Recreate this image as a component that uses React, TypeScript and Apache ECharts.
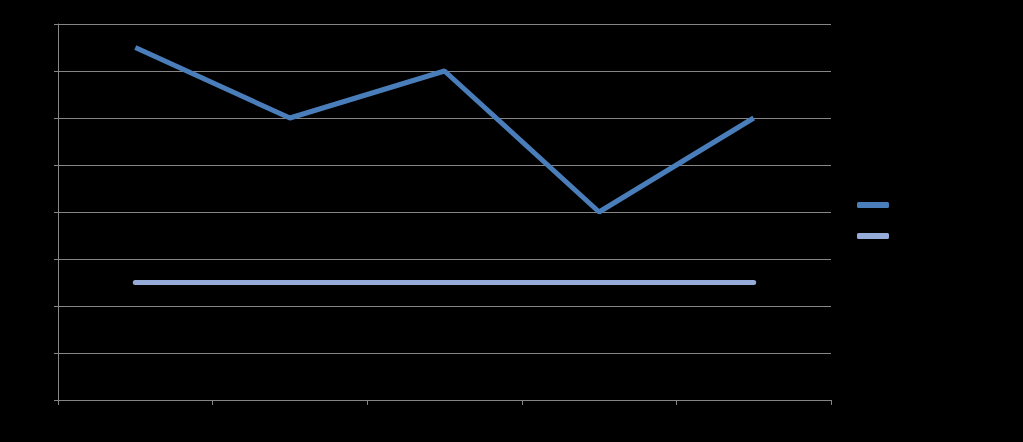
import React, { useEffect, useRef } from "react";
import * as echarts from "echarts";

const categories = ["Category 1", "Category 2", "Category 3", "Category 4", "Category 5"];
const series1Values = [7.5, 6, 7, 4, 6];
const series2Values = [2.5, 2.5, 2.5, 2.5, 2.5];
const seriesNames = ["Series 1", "Series 2"];

export default function App() {
  const ref = useRef<HTMLDivElement>(null);
  useEffect(() => {
    document.body.style.margin = "0";
    document.body.style.background = "#000";
    const chart = echarts.init(ref.current!, null, { renderer: "svg" });
    chart.setOption({
      animation: false,
      backgroundColor: "#000000",
      grid: { left: 58, top: 24, width: 773, height: 376, containLabel: false },
      legend: {
        orient: "vertical",
        left: 852,
        top: 194,
        itemWidth: 32,
        itemHeight: 6,
        itemGap: 19,
        icon: "roundRect",
        textStyle: { color: "#000000", fontSize: 12 },
        data: seriesNames,
      },
      xAxis: {
        type: "category",
        data: categories,
        boundaryGap: true,
        axisLine: { lineStyle: { color: "#868686", width: 1 } },
        axisTick: { show: true, length: 5, lineStyle: { color: "#868686" } },
        axisLabel: { color: "#000000" },
      },
      yAxis: {
        type: "value",
        min: 0,
        max: 8,
        interval: 1,
        axisLine: { show: true, lineStyle: { color: "#868686", width: 1 } },
        axisTick: { show: true, length: 4, lineStyle: { color: "#868686" } },
        axisLabel: { color: "#000000" },
        splitLine: { show: true, lineStyle: { color: "#868686", width: 1 } },
      },
      series: [
        {
          name: seriesNames[0],
          type: "line",
          data: series1Values,
          symbol: "none",
          color: "#4a7ebb",
          lineStyle: { color: "#4a7ebb", width: 5 },
        },
        {
          name: seriesNames[1],
          type: "line",
          data: series2Values,
          symbol: "none",
          color: "#95acd8",
          lineStyle: { color: "#95acd8", width: 5, cap: "round" },
        },
      ],
    });
    return () => chart.dispose();
  }, []);
  return <div ref={ref} style={{ width: 1023, height: 442, background: "#000" }} />;
}
